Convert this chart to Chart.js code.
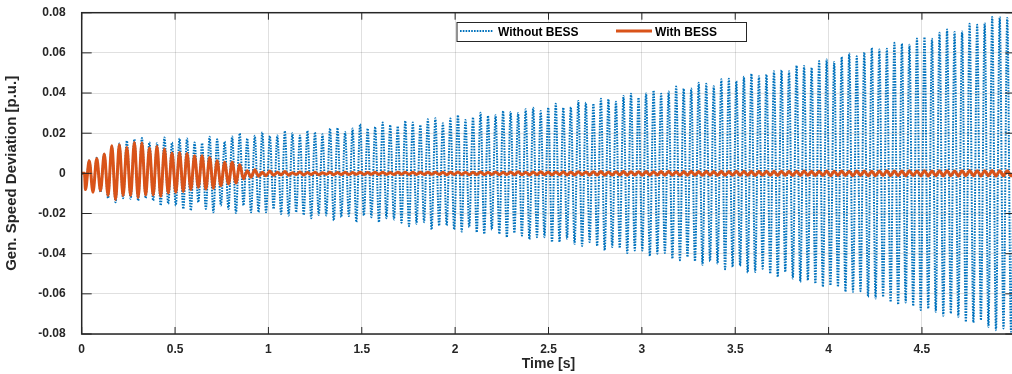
<!DOCTYPE html>
<html><head><meta charset="utf-8">
<script src="https://cdn.jsdelivr.net/npm/chart.js@4.4.1/dist/chart.umd.min.js"></script>
<style>
html,body{margin:0;padding:0;background:#fff;overflow:hidden;width:1012px;height:374px}
#wrap{position:relative;width:1016px;height:374px}
</style></head>
<body><div id="wrap"><canvas id="c"></canvas></div>
<script>
const xTickValues = [0,0.5,1,1.5,2,2.5,3,3.5,4,4.5,5];
const xTickLabels = ['0','0.5','1','1.5','2','2.5','3','3.5','4','4.5','5'];
const yTickValues = [-0.08,-0.06,-0.04,-0.02,0,0.02,0.04,0.06,0.08];
const yTickLabels = ['-0.08','-0.06','-0.04','-0.02','0','0.02','0.04','0.06','0.08'];
const seriesNames = ['Without BESS','With BESS'];
const xTitle = 'Time [s]';
const yTitle = 'Gen. Speed Deviation [p.u.]';

// oscillation period read from the spacing of the peaks (s)
const oscPeriod = 0.0403;
const preFaultTimes = [0, 0.015];
const preFaultValues = [0, 0];

// Without BESS: positive peaks (cycles 1..124) and negative peaks (half cycles 0.5..123.5)
const withoutUpper = [
 0.0065,0.0078,0.0098,0.0135,0.0149,0.0162,0.0170,0.0176,0.0155,0.0150,
 0.0179,0.0154,0.0174,0.0174,0.0154,0.0150,0.0182,0.0170,0.0159,0.0184,
 0.0199,0.0174,0.0187,0.0205,0.0187,0.0189,0.0211,0.0200,0.0189,0.0212,
 0.0205,0.0195,0.0224,0.0226,0.0206,0.0223,0.0245,0.0223,0.0231,0.0253,
 0.0240,0.0234,0.0261,0.0253,0.0240,0.0269,0.0274,0.0250,0.0273,0.0289,
 0.0266,0.0278,0.0302,0.0286,0.0289,0.0310,0.0306,0.0300,0.0319,0.0327,
 0.0310,0.0327,0.0347,0.0327,0.0330,0.0360,0.0352,0.0347,0.0372,0.0369,
 0.0357,0.0385,0.0397,0.0377,0.0398,0.0413,0.0397,0.0407,0.0432,0.0422,
 0.0422,0.0451,0.0446,0.0434,0.0468,0.0471,0.0459,0.0481,0.0496,0.0484,
 0.0492,0.0509,0.0514,0.0509,0.0537,0.0534,0.0526,0.0559,0.0567,0.0554,
 0.0580,0.0597,0.0583,0.0603,0.0625,0.0617,0.0620,0.0650,0.0646,0.0641,
 0.0671,0.0678,0.0670,0.0700,0.0716,0.0704,0.0707,0.0745,0.0740,0.0749,
 0.0779,0.0779,0.0774,0.0780];
const withoutLower = [
 -0.0075,-0.0086,-0.0094,-0.0124,-0.0144,-0.0124,-0.0127,-0.0136,-0.0124,-0.0136,
 -0.0160,-0.0152,-0.0160,-0.0177,-0.0185,-0.0144,-0.0177,-0.0194,-0.0160,-0.0177,
 -0.0197,-0.0160,-0.0194,-0.0194,-0.0194,-0.0177,-0.0202,-0.0210,-0.0194,-0.0207,
 -0.0223,-0.0207,-0.0210,-0.0235,-0.0218,-0.0213,-0.0243,-0.0210,-0.0218,-0.0243,
 -0.0223,-0.0230,-0.0246,-0.0263,-0.0251,-0.0243,-0.0280,-0.0260,-0.0260,-0.0280,
 -0.0290,-0.0268,-0.0293,-0.0301,-0.0281,-0.0301,-0.0318,-0.0296,-0.0310,-0.0329,
 -0.0318,-0.0318,-0.0342,-0.0342,-0.0326,-0.0351,-0.0362,-0.0342,-0.0362,-0.0384,
 -0.0367,-0.0372,-0.0397,-0.0384,-0.0384,-0.0412,-0.0400,-0.0397,-0.0425,-0.0433,
 -0.0417,-0.0438,-0.0455,-0.0438,-0.0450,-0.0478,-0.0466,-0.0461,-0.0495,-0.0491,
 -0.0475,-0.0500,-0.0516,-0.0491,-0.0524,-0.0541,-0.0533,-0.0549,-0.0565,-0.0558,
 -0.0565,-0.0590,-0.0590,-0.0587,-0.0615,-0.0623,-0.0615,-0.0640,-0.0653,-0.0643,
 -0.0660,-0.0681,-0.0673,-0.0689,-0.0709,-0.0698,-0.0714,-0.0739,-0.0743,-0.0731,
 -0.0764,-0.0781,-0.0772,-0.0789];

// With BESS: positive peaks (cycles 1..124) and negative peaks (half cycles 0.5..123.5)
const withUpper = [
 0.0063,0.0074,0.0096,0.0137,0.0142,0.0129,0.0154,0.0151,0.0126,0.0134,
 0.0121,0.0101,0.0104,0.0099,0.0088,0.0088,0.0079,0.0063,0.0055,0.0055,
 0.0043,0.0013,0.0018,0.0005,
 0.0012,0.0005,0.0009,0.0003,0.0007,0.0004,0.0006,0.0003,0.0005,0.0004,
 0.0006,0.0004,0.0005,0.0004,0.0006,0.0005,0.0004,0.0006,0.0005,0.0005,
 0.0005,0.0006,0.0005,0.0006,0.0005,0.0007,0.0006,0.0006,0.0007,0.0006,
 0.0007,0.0006,0.0007,0.0008,0.0006,0.0007,0.0008,0.0007,0.0007,0.0008,
 0.0007,0.0008,0.0007,0.0008,0.0009,0.0007,0.0008,0.0009,0.0008,0.0008,
 0.0009,0.0008,0.0009,0.0010,0.0008,0.0009,0.0010,0.0009,0.0010,0.0009,
 0.0010,0.0009,0.0010,0.0011,0.0010,0.0010,0.0011,0.0010,0.0011,0.0010,
 0.0011,0.0012,0.0010,0.0011,0.0012,0.0011,0.0012,0.0011,0.0012,0.0012,
 0.0011,0.0012,0.0013,0.0012,0.0012,0.0013,0.0012,0.0013,0.0012,0.0013,
 0.0013,0.0012,0.0013,0.0014,0.0013,0.0013,0.0014,0.0013,0.0013,0.0014];
const withLower = [
 -0.0081,-0.0094,-0.0086,-0.0110,-0.0130,-0.0110,-0.0110,-0.0120,-0.0108,-0.0108,
 -0.0114,-0.0098,-0.0094,-0.0090,-0.0081,-0.0069,-0.0078,-0.0074,-0.0061,-0.0053,
 -0.0048,-0.0028,-0.0020,-0.0015,-0.0012,
 -0.0010,-0.0007,-0.0009,-0.0006,-0.0008,-0.0006,-0.0007,-0.0005,-0.0007,-0.0006,
 -0.0006,-0.0005,-0.0006,-0.0005,-0.0006,-0.0005,-0.0006,-0.0005,-0.0006,-0.0006,
 -0.0006,-0.0005,-0.0006,-0.0007,-0.0006,-0.0006,-0.0007,-0.0006,-0.0007,-0.0006,
 -0.0007,-0.0006,-0.0007,-0.0007,-0.0008,-0.0007,-0.0007,-0.0008,-0.0007,-0.0008,
 -0.0008,-0.0007,-0.0008,-0.0008,-0.0009,-0.0008,-0.0008,-0.0009,-0.0008,-0.0009,
 -0.0009,-0.0008,-0.0009,-0.0009,-0.0010,-0.0009,-0.0009,-0.0010,-0.0009,-0.0010,
 -0.0010,-0.0009,-0.0010,-0.0010,-0.0011,-0.0010,-0.0010,-0.0011,-0.0010,-0.0011,
 -0.0011,-0.0010,-0.0011,-0.0011,-0.0012,-0.0011,-0.0011,-0.0012,-0.0011,-0.0012,
 -0.0012,-0.0011,-0.0012,-0.0012,-0.0012,-0.0011,-0.0012,-0.0013,-0.0012,-0.0012,
 -0.0012,-0.0013,-0.0012,-0.0012,-0.0013,-0.0012,-0.0013,-0.0012,-0.0012];

function buildSeries(lower, upper) {
  const pts = preFaultTimes.map((t, i) => ({x: t, y: preFaultValues[i]}));
  for (let k = 0; k < lower.length; k++) {
    pts.push({x: (k + 0.5) * oscPeriod, y: lower[k]});
    if (k < upper.length) pts.push({x: (k + 1) * oscPeriod, y: upper[k]});
  }
  return pts;
}

const AXIS = '#262626';
const FONT = "'Liberation Sans', Arial, Helvetica, sans-serif";

const framePlugin = {
  id: 'frame',
  afterDatasetsDraw(chart) {
    const {ctx, chartArea: a, scales: {x, y}} = chart;
    ctx.save();
    ctx.strokeStyle = AXIS;
    ctx.lineWidth = 1;
    ctx.beginPath();
    xTickValues.forEach(v => {
      const px = x.getPixelForValue(v);
      ctx.moveTo(px, a.bottom); ctx.lineTo(px, a.bottom - 7);
      ctx.moveTo(px, a.top); ctx.lineTo(px, a.top + 7);
    });
    yTickValues.forEach(v => {
      const py = y.getPixelForValue(v);
      ctx.moveTo(a.left, py); ctx.lineTo(a.left + 10, py);
      ctx.moveTo(a.right, py); ctx.lineTo(a.right - 10, py);
    });
    ctx.stroke();
    ctx.lineWidth = 1.5;
    ctx.strokeRect(a.left, a.top, a.right - a.left, a.bottom - a.top);
    ctx.restore();
  }
};

const boxLegendPlugin = {
  id: 'boxLegend',
  afterDraw(chart, args, opts) {
    const ctx = chart.ctx;
    const ds = chart.data.datasets;
    ctx.save();
    ctx.fillStyle = '#fff';
    ctx.fillRect(opts.left, opts.top, opts.width, opts.height);
    ctx.strokeStyle = AXIS;
    ctx.lineWidth = 1;
    ctx.strokeRect(opts.left + 0.5, opts.top + 0.5, opts.width, opts.height);
    ctx.font = 'bold 12px ' + FONT;
    ctx.textBaseline = 'alphabetic';
    ctx.fillStyle = '#000';
    opts.items.forEach((it, i) => {
      const d = ds[it.dataset];
      const ly = opts.top + opts.lineOffset;
      ctx.save();
      ctx.strokeStyle = d.borderColor;
      ctx.lineWidth = d.borderWidth;
      ctx.setLineDash(d.borderDash || []);
      ctx.beginPath();
      ctx.moveTo(it.lineStart, ly);
      ctx.lineTo(it.lineStart + it.lineLength, ly);
      ctx.stroke();
      ctx.restore();
      ctx.fillText(d.label, it.textStart, opts.top + opts.textOffset);
    });
    ctx.restore();
  }
};

new Chart(document.getElementById('c'), {
  type: 'line',
  data: {
    datasets: [
      {
        label: seriesNames[0],
        data: buildSeries(withoutLower, withoutUpper),
        borderColor: '#0072BD',
        borderWidth: 2,
        borderDash: [1.6, 1.2],
        pointRadius: 0,
        cubicInterpolationMode: 'monotone',
        order: 1
      },
      {
        label: seriesNames[1],
        data: buildSeries(withLower, withUpper),
        borderColor: '#D95319',
        borderWidth: 3,
        pointRadius: 0,
        cubicInterpolationMode: 'monotone',
        order: 0
      }
    ]
  },
  options: {
    responsive: true,
    maintainAspectRatio: false,
    animation: false,
    events: [],
    layout: {padding: {top: 12.7, right: 0.7, left: 0, bottom: 0}},
    plugins: {
      legend: {display: false},
      tooltip: {enabled: false},
      boxLegend: {
        left: 456.5, top: 22, width: 289.5, height: 19,
        lineOffset: 9, textOffset: 13.5,
        items: [
          {dataset: 0, lineStart: 460, lineLength: 33, textStart: 498},
          {dataset: 1, lineStart: 616, lineLength: 36, textStart: 655}
        ]
      }
    },
    scales: {
      x: {
        type: 'linear', min: 0, max: 5,
        afterBuildTicks: s => { s.ticks = xTickValues.map(v => ({value: v})); },
        afterFit: s => { s.height = 40; s.paddingLeft = 0; s.paddingRight = 0; },
        ticks: {
          callback: (v, i) => xTickLabels[i],
          color: AXIS, padding: 8, maxRotation: 0, autoSkip: false,
          font: {family: FONT, size: 12, weight: 'bold'}
        },
        grid: {color: 'rgba(38,38,38,0.14)', lineWidth: 1, drawTicks: false},
        border: {display: false},
        title: {
          display: true, text: xTitle, color: AXIS,
          font: {family: FONT, size: 14, weight: 'bold'},
          padding: {top: 0, bottom: 1}
        }
      },
      y: {
        type: 'linear', min: -0.08, max: 0.08,
        afterBuildTicks: s => { s.ticks = yTickValues.map(v => ({value: v})); },
        afterFit: s => { s.width = 81.7; s.paddingTop = 0; s.paddingBottom = 0; },
        ticks: {
          callback: (v, i) => yTickLabels[i],
          color: AXIS, padding: 16, autoSkip: false,
          font: {family: FONT, size: 12, weight: 'bold'}
        },
        grid: {color: 'rgba(38,38,38,0.14)', lineWidth: 1, drawTicks: false},
        border: {display: false},
        title: {
          display: true, text: yTitle, color: AXIS,
          font: {family: FONT, size: 15, weight: 'bold'},
          padding: {top: 3, bottom: 0}
        }
      }
    }
  },
  plugins: [framePlugin, boxLegendPlugin]
});
</script>
</body></html>
